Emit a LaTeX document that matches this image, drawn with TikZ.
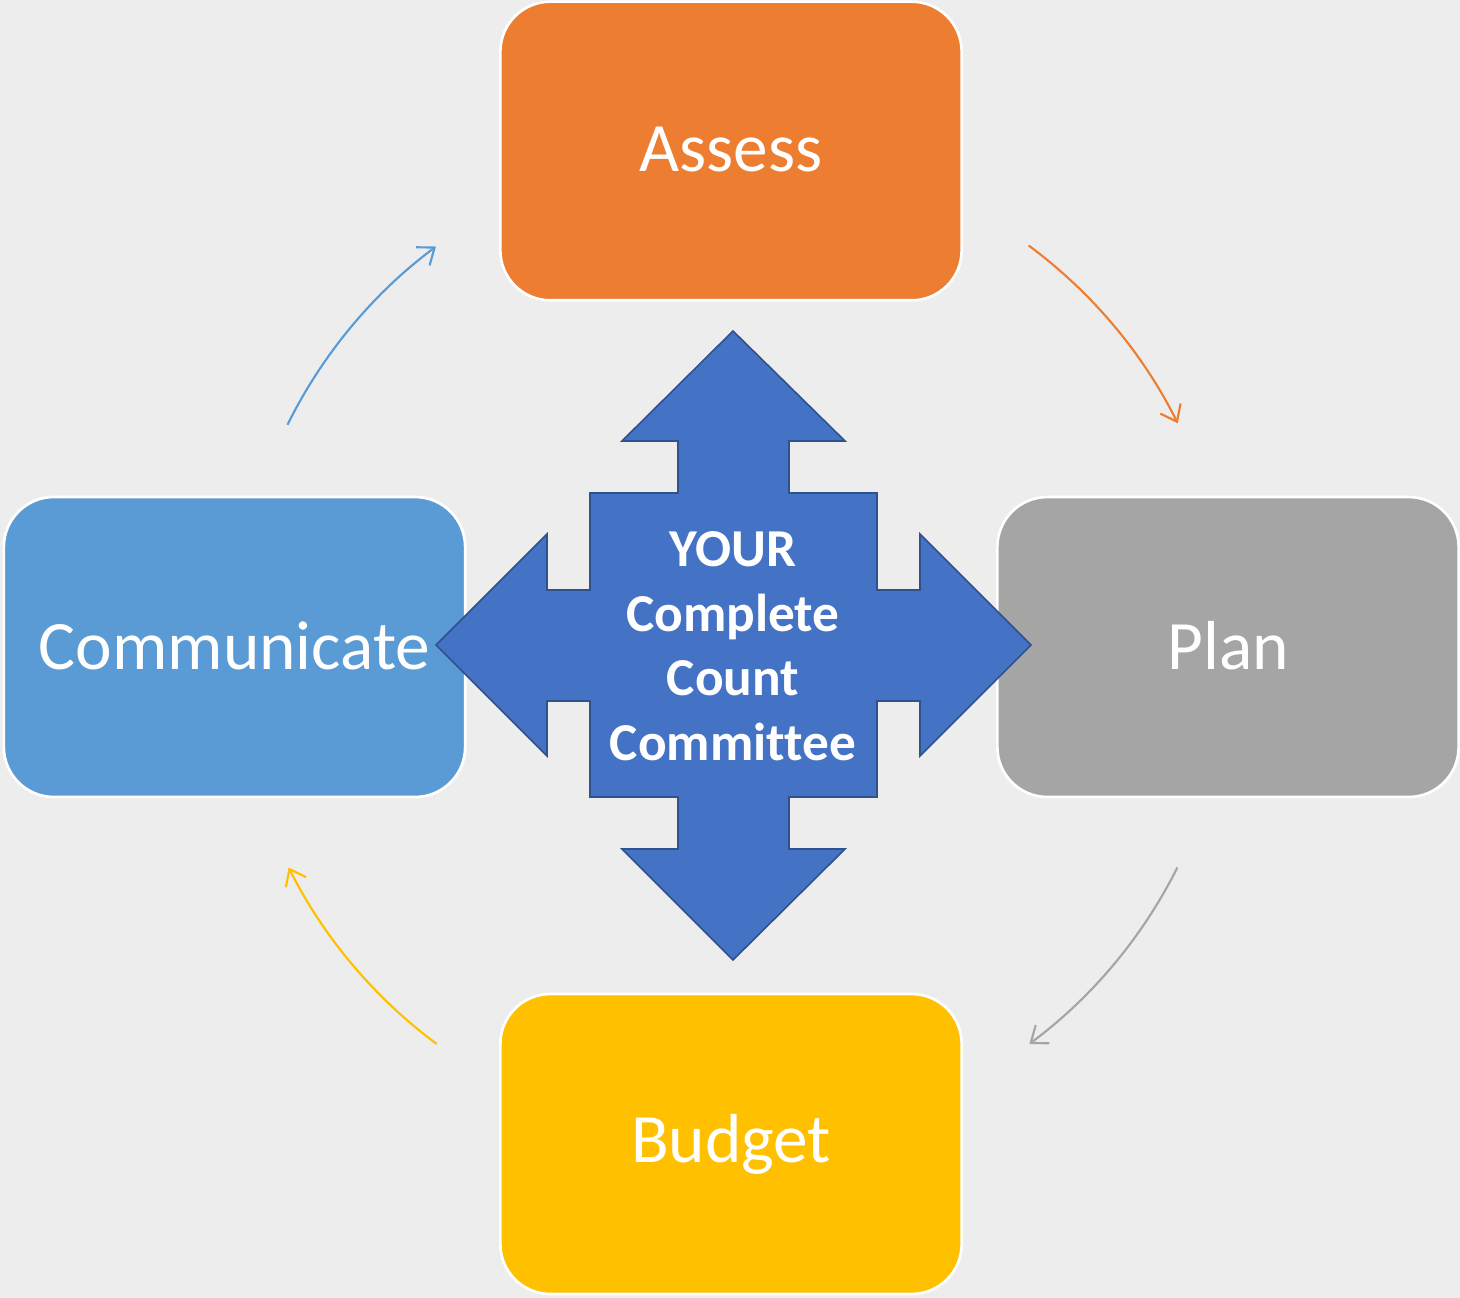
\documentclass[tikz,border=0pt]{standalone}
\usepackage{fontspec}
\setmainfont{Carlito}[Ligatures=NoCommon]
\usetikzlibrary{arrows.meta}
\definecolor{bgc}{HTML}{EDEDED}
\definecolor{cOrange}{HTML}{ED7D31}
\definecolor{cBlue}{HTML}{5B9BD5}
\definecolor{cGray}{HTML}{A5A5A5}
\definecolor{cYellow}{HTML}{FFC000}
\definecolor{cArrow}{HTML}{4472C4}
\definecolor{cArrowEdge}{HTML}{2F528F}
\tikzset{
  stagebox/.style={draw=white, line width=2pt, rounded corners=37.5pt,
    minimum width=346pt, minimum height=224pt, text=white,
    font=\fontsize{52}{60}\selectfont, inner sep=0pt},
  cycarrow/.style={line width=1.6pt, -{Straight Barb[length=11pt,width=17pt,line width=1.6pt]}},
  hubtext/.style={text=white, align=center, font=\fontsize{40}{48.4}\selectfont\bfseries}
}
\begin{document}
\begin{tikzpicture}[x=0.75pt, y=-0.75pt]
\fill[bgc] (0,0) rectangle (1460,1298);
\useasboundingbox (0,0) rectangle (1460,1298);
% stage boxes
\node[stagebox, fill=cOrange] (assess) at (731,151) {\raisebox{2pt}{Assess}};
\node[stagebox, fill=cBlue, minimum height=225pt] (comm) at (234.5,647) {\raisebox{2pt}{Communicate}};
\node[stagebox, fill=cGray, minimum height=225pt] (plan) at (1228,647) {\raisebox{2pt}{Plan}};
\node[stagebox, fill=cYellow, minimum height=225pt] (budget) at (731,1144) {\raisebox{2pt}{Budget}};
% central four-way arrow
\draw[fill=cArrow, draw=cArrowEdge, line width=1.2pt, line join=miter]
  (733,331) -- (845,441) -- (789,441) -- (789,493) -- (877,493) -- (877,590)
  -- (920,590) -- (920,534) -- (1031,645) -- (920,756) -- (920,701) -- (877,701)
  -- (877,797) -- (789,797) -- (789,849) -- (845,849) -- (733,960) -- (622,849)
  -- (678,849) -- (678,797) -- (590,797) -- (590,701) -- (547,701) -- (547,756)
  -- (436,645) -- (547,534) -- (547,590) -- (590,590) -- (590,493) -- (678,493)
  -- (678,441) -- (622,441) -- cycle;
\node[hubtext] (hub) at (733,646) {YOUR\\Complete\\Count\\Committee};
% cycle arrows (arcs around the hub centre)
\coordinate (hc) at (733,645);
\draw[cycarrow, cOrange] ([shift={(306.5:497)}]hc) arc[start angle=306.5, end angle=333.5, radius=497];
\draw[cycarrow, cGray] ([shift={(26.6:497)}]hc) arc[start angle=26.6, end angle=53.4, radius=497];
\draw[cycarrow, cYellow] ([shift={(126.6:497)}]hc) arc[start angle=126.6, end angle=153.4, radius=497];
\draw[cycarrow, cBlue] ([shift={(206.3:497)}]hc) arc[start angle=206.3, end angle=233.3, radius=497];
\end{tikzpicture}
\end{document}
